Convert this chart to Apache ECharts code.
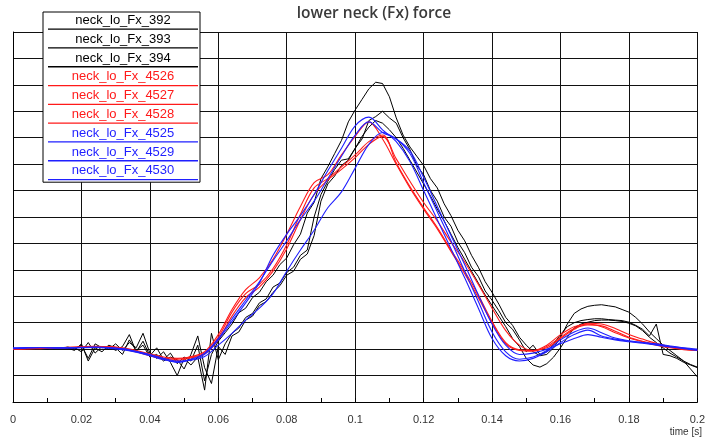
<!DOCTYPE html>
<html>
<head>
<meta charset="utf-8">
<style>
  html, body { margin: 0; padding: 0; background: #fff; }
  #chart { width: 708px; height: 440px; }
</style>
<script src="https://cdn.jsdelivr.net/npm/echarts@6/dist/echarts.min.js"></script>
</head>
<body>
<div id="chart"></div>
<script>
// Lower neck shear force Fx, nine test channels, sampled over 0 .. 0.2 s.
const blackNames = ['neck_lo_Fx_392', 'neck_lo_Fx_393', 'neck_lo_Fx_394'];
const redNames = ['neck_lo_Fx_4526', 'neck_lo_Fx_4527', 'neck_lo_Fx_4528'];
const blueNames = ['neck_lo_Fx_4525', 'neck_lo_Fx_4529', 'neck_lo_Fx_4530'];

const xTicks = [0, 0.02, 0.04, 0.06, 0.08, 0.1, 0.12, 0.14, 0.16, 0.18, 0.2];

// raw channels: one sample every 2 ms
const stepFine = 0.002;
const fx392 = [
  0.02, 0.00, 0.04, 0.02, 0.05, 0.01, 0.06, 0.03, 0.08, 0.02,
  0.15, -0.35, 0.20, 0.05, 0.12, -0.05, 0.10, 0.55, -0.10, 0.30,
  -0.25, 0.05, -0.40, -0.15, -0.55, -0.30, -0.45, 0.15, -1.20, -0.20,
  0.30, 0.62, 0.95, 1.38, 1.55, 1.95, 2.15, 2.55, 2.80, 3.20,
  3.45, 3.95, 4.35, 5.15, 5.55, 6.45, 6.90, 7.40, 7.90, 8.60,
  9.05, 9.45, 9.85, 10.10, 10.05, 9.55, 8.75, 8.10, 7.65, 7.30,
  6.95, 6.45, 6.10, 5.50, 5.05, 4.50, 4.10, 3.55, 3.10, 2.55,
  2.15, 1.70, 1.20, 0.90, 0.45, 0.15, -0.10, -0.25, -0.20, 0.05,
  0.45, 0.95, 1.35, 1.52, 1.62, 1.66, 1.68, 1.64, 1.60, 1.50,
  1.40, 1.20, 0.95, 0.65, 0.40, 0.15, -0.05, -0.25, -0.45, -0.75,
  -1.05
];
const fx393 = [
  0.00, 0.03, 0.01, 0.04, 0.02, 0.05, 0.03, 0.06, 0.02, 0.05,
  -0.10, 0.25, -0.15, 0.10, 0.00, 0.20, -0.05, 0.25, 0.05, 0.60,
  -0.15, -0.35, -0.10, -0.50, -1.00, -0.35, -0.60, -0.30, -1.55, 0.60,
  -0.40, 0.20, 0.60, 0.80, 1.20, 1.35, 1.75, 1.90, 2.35, 2.50,
  2.90, 3.10, 3.55, 3.75, 5.00, 5.85, 6.35, 6.80, 7.15, 7.20,
  7.60, 7.95, 8.65, 8.80, 9.00, 8.75, 8.55, 8.00, 7.55, 6.95,
  6.60, 6.00, 5.60, 5.00, 4.65, 4.05, 3.65, 3.10, 2.75, 2.20,
  1.85, 1.45, 1.00, 0.75, 0.35, -0.10, 0.15, -0.20, -0.10, 0.20,
  0.55, 0.85, 1.00, 1.08, 1.12, 1.15, 1.15, 1.12, 1.10, 1.08,
  1.02, 0.90, 0.75, 0.50, 0.95, -0.20, -0.25, -0.35, -0.50, -0.60,
  -0.70
];
const fx394 = [
  0.03, 0.01, 0.02, 0.05, 0.03, 0.04, 0.02, 0.05, 0.04, -0.05,
  0.20, -0.45, 0.05, -0.10, 0.15, 0.05, -0.20, 0.35, -0.05, 0.15,
  -0.30, -0.20, -0.45, -0.30, -0.40, -0.75, -0.20, 0.50, -0.70, -1.30,
  0.10, -0.20, 0.50, 0.65, 1.10, 1.25, 1.65, 1.80, 2.15, 2.40,
  2.80, 2.95, 3.40, 3.60, 4.30, 5.60, 6.25, 6.55, 6.95, 7.15,
  7.60, 8.05, 8.40, 8.65, 8.55, 8.30, 8.00, 7.60, 7.15, 6.70,
  6.25, 5.80, 5.30, 4.85, 4.35, 3.85, 3.40, 2.95, 2.50, 2.05,
  1.65, 1.25, 0.85, 0.40, 0.10, -0.35, -0.60, -0.68, -0.55, -0.30,
  0.05, 0.45, 0.80, 0.95, 1.02, 1.08, 1.10, 1.10, 1.08, 1.05,
  0.98, 0.88, 0.70, 0.45, 0.25, 0.05, -0.15, -0.30, -0.45, -0.58,
  -0.68
];

// filtered channels: one sample every 4 ms
const stepCoarse = 0.004;
const fx4526 = [
  0.00, 0.02, 0.03, 0.04, 0.06, 0.08, 0.10, 0.10, 0.05, -0.05,
  -0.18, -0.30, -0.35, -0.30, -0.15, 0.45, 1.40, 2.10, 2.45, 3.05,
  3.95, 5.10, 6.10, 6.45, 6.90, 7.35, 7.85, 8.10, 7.05, 6.15,
  5.35, 4.60, 3.75, 2.95, 2.05, 1.05, 0.25, -0.02, -0.05, 0.15,
  0.55, 0.85, 0.95, 0.85, 0.62, 0.42, 0.28, 0.15, 0.05, -0.02,
  -0.05
];
const fx4527 = [
  0.02, 0.03, 0.04, 0.05, 0.07, 0.09, 0.11, 0.09, 0.03, -0.08,
  -0.22, -0.35, -0.38, -0.28, -0.10, 0.55, 1.50, 2.25, 2.70, 3.40,
  4.35, 5.40, 6.30, 6.60, 7.35, 8.05, 8.60, 7.95, 7.00, 6.10,
  5.30, 4.55, 3.70, 2.85, 1.95, 1.00, 0.20, -0.05, -0.08, 0.10,
  0.45, 0.78, 0.92, 0.88, 0.68, 0.45, 0.30, 0.18, 0.08, 0.00,
  -0.04
];
const fx4528 = [
  -0.01, 0.01, 0.02, 0.03, 0.05, 0.07, 0.09, 0.08, 0.02, -0.10,
  -0.25, -0.38, -0.42, -0.33, -0.18, 0.35, 1.25, 1.95, 2.35, 2.95,
  3.80, 4.90, 5.85, 6.40, 6.80, 7.25, 7.75, 8.05, 7.20, 6.35,
  5.55, 4.85, 4.05, 3.30, 2.45, 1.55, 0.70, 0.15, -0.05, 0.05,
  0.40, 0.75, 0.98, 0.95, 0.78, 0.55, 0.38, 0.22, 0.10, 0.02,
  -0.03
];
const fx4525 = [
  0.05, 0.06, 0.06, 0.05, 0.05, 0.06, 0.07, 0.05, 0.00, -0.10,
  -0.22, -0.38, -0.50, -0.40, -0.20, 0.35, 1.05, 1.75, 2.50, 3.55,
  4.35, 5.05, 5.85, 6.75, 7.60, 8.45, 8.78, 8.30, 7.85, 7.10,
  6.00, 4.90, 3.80, 2.70, 1.55, 0.40, -0.25, -0.45, -0.35, -0.10,
  0.25, 0.55, 0.72, 0.50, 0.38, 0.30, 0.25, 0.20, 0.12, 0.05,
  0.00
];
const fx4529 = [
  0.03, 0.05, 0.06, 0.04, 0.04, 0.05, 0.06, 0.04, -0.02, -0.12,
  -0.25, -0.40, -0.48, -0.38, -0.15, 0.40, 1.15, 1.85, 2.55, 3.35,
  4.10, 4.90, 5.60, 6.45, 7.30, 8.10, 8.60, 8.20, 7.95, 7.40,
  6.30, 5.20, 4.10, 2.95, 1.80, 0.65, -0.10, -0.38, -0.30, -0.05,
  0.35, 0.65, 0.80, 0.62, 0.42, 0.32, 0.25, 0.18, 0.10, 0.04,
  -0.02
];
const fx4530 = [
  0.02, 0.04, 0.05, 0.05, 0.06, 0.07, 0.08, 0.06, 0.02, -0.08,
  -0.20, -0.35, -0.45, -0.42, -0.28, 0.15, 0.60, 1.10, 1.55, 2.10,
  2.95, 3.75, 4.50, 5.35, 5.95, 6.85, 7.75, 8.20, 7.95, 7.50,
  6.50, 5.40, 4.30, 3.20, 2.05, 0.95, 0.15, -0.20, -0.15, 0.00,
  0.20, 0.40, 0.55, 0.45, 0.35, 0.28, 0.22, 0.15, 0.08, 0.02,
  -0.05
];

const black = '#000000';
const red = '#ff1a1a';
const blue = '#1f1fff';

function toPairs(values, step) {
  return values.map((v, i) => [+(i * step).toFixed(4), v]);
}

const channels = [
  { name: blackNames[0], values: fx392, step: stepFine, color: black, group: 0 },
  { name: blackNames[1], values: fx393, step: stepFine, color: black, group: 0 },
  { name: blackNames[2], values: fx394, step: stepFine, color: black, group: 0 },
  { name: redNames[0], values: fx4526, step: stepCoarse, color: red, group: 1 },
  { name: redNames[1], values: fx4527, step: stepCoarse, color: red, group: 1 },
  { name: redNames[2], values: fx4528, step: stepCoarse, color: red, group: 1 },
  { name: blueNames[0], values: fx4525, step: stepCoarse, color: blue, group: 2 },
  { name: blueNames[1], values: fx4529, step: stepCoarse, color: blue, group: 2 },
  { name: blueNames[2], values: fx4530, step: stepCoarse, color: blue, group: 2 }
];
const groupColors = [black, red, blue];
const groupOf = {};
channels.forEach(c => { groupOf[c.name] = c.group; });

// legend entries: name centred over a short stroke in the channel colour
const legendFont = 'Arial, "Liberation Sans", sans-serif';
const rich = {};
groupColors.forEach((col, g) => {
  rich['t' + g] = {
    color: col, fontFamily: legendFont, fontSize: 13,
    align: 'center', padding: [1, 0, 1.5, 0]
  };
  rich['u' + g] = {
    width: 150, height: 1.3, lineHeight: 1.3, fontSize: 1,
    fontFamily: legendFont, backgroundColor: col
  };
});

const chart = echarts.init(document.getElementById('chart'), null, { renderer: 'canvas' });

chart.setOption({
  animation: false,
  backgroundColor: '#ffffff',
  grid: { left: 13, right: 5, top: 32, bottom: 38, containLabel: false },
  xAxis: {
    type: 'value',
    min: xTicks[0],
    max: xTicks[xTicks.length - 1],
    interval: xTicks[1] - xTicks[0],
    axisLine: { show: true, onZero: false, lineStyle: { color: '#000', width: 1 } },
    axisTick: { show: true, inside: true, length: 4, lineStyle: { color: '#000' } },
    minorTick: { show: true, splitNumber: 2, length: 4, lineStyle: { color: '#000' } },
    splitLine: { show: true, lineStyle: { color: '#111', width: 1 } },
    axisLabel: {
      show: true, margin: 12, color: '#333', fontSize: 11,
      fontFamily: 'Arial, "Liberation Sans", sans-serif',
      showMinLabel: true, showMaxLabel: true,
      formatter: v => String(+v.toFixed(2))
    }
  },
  yAxis: {
    type: 'value',
    min: -2, max: 12, interval: 1,
    axisLine: { show: true, onZero: false, lineStyle: { color: '#000', width: 1 } },
    axisTick: { show: false },
    axisLabel: { show: false },
    splitLine: { show: true, lineStyle: { color: '#111', width: 1 } }
  },
  legend: {
    orient: 'vertical',
    left: 43, top: 12,
    padding: [0, 2, 1, 0],
    itemGap: 0,
    itemWidth: 0, itemHeight: 18.8,
    icon: 'rect',
    itemStyle: { opacity: 0 },
    selectedMode: false,
    backgroundColor: '#ffffff',
    borderColor: '#000',
    borderWidth: 1,
    data: channels.map(c => c.name),
    formatter: name => '{t' + groupOf[name] + '|' + name + '}\n{u' + groupOf[name] + '| }',
    textStyle: { fontFamily: legendFont, fontSize: 13, rich: rich }
  },
  graphic: [
    {
      type: 'text', x: 374, y: 6,
      style: {
        text: 'lower neck (Fx) force', fill: '#3a3a3a',
        align: 'center', textAlign: 'center',
        font: '600 15.5px "Open Sans", sans-serif'
      }
    },
    {
      type: 'text', right: 6, top: 427,
      style: {
        text: 'time [s]', fill: '#333',
        font: '10px Arial, "Liberation Sans", sans-serif'
      }
    }
  ],
  series: channels.map(c => ({
    name: c.name,
    type: 'line',
    data: toPairs(c.values, c.step),
    showSymbol: false,
    symbol: 'none',
    smooth: c.group === 0 ? false : 0.35,
    color: c.color,
    lineStyle: { color: c.color, width: c.group === 0 ? 1 : 1.1 },
    emphasis: { disabled: true },
    silent: true
  }))
});
</script>
</body>
</html>
